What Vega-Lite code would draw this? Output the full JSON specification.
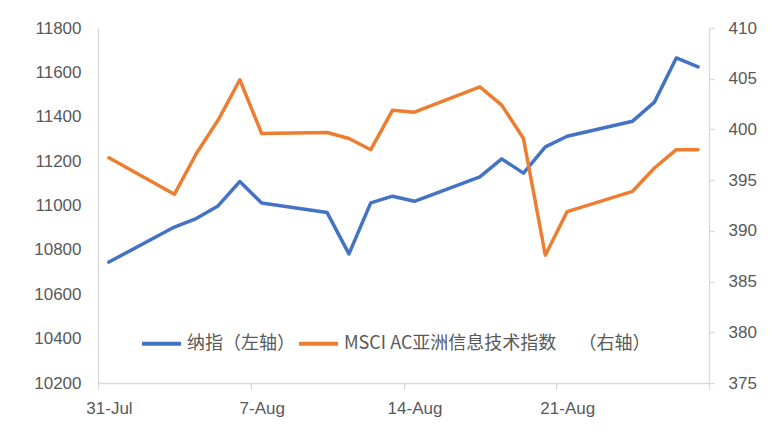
{
  "$schema": "https://vega.github.io/schema/vega-lite/v6.json",
  "autosize": "none",
  "width": 611,
  "height": 355,
  "padding": {"left": 98, "top": 28, "right": 63, "bottom": 49},
  "background": "white",
  "config": {
    "view": {"stroke": null},
    "axis": {"labelFont": "Liberation Sans", "labelFontSize": 17, "labelColor": "#595959", "domainColor": "#d9d9d9", "tickColor": "#d9d9d9", "domainWidth": 1.3, "tickWidth": 1.3, "grid": false, "title": null}
  },
  "data": {
    "values": [
      {"date": "2020-07-31", "series": "纳指（左轴）", "value": 10745},
      {"date": "2020-08-03", "series": "纳指（左轴）", "value": 10903},
      {"date": "2020-08-04", "series": "纳指（左轴）", "value": 10941},
      {"date": "2020-08-05", "series": "纳指（左轴）", "value": 10998},
      {"date": "2020-08-06", "series": "纳指（左轴）", "value": 11108},
      {"date": "2020-08-07", "series": "纳指（左轴）", "value": 11011},
      {"date": "2020-08-10", "series": "纳指（左轴）", "value": 10968},
      {"date": "2020-08-11", "series": "纳指（左轴）", "value": 10782},
      {"date": "2020-08-12", "series": "纳指（左轴）", "value": 11012},
      {"date": "2020-08-13", "series": "纳指（左轴）", "value": 11042},
      {"date": "2020-08-14", "series": "纳指（左轴）", "value": 11019},
      {"date": "2020-08-17", "series": "纳指（左轴）", "value": 11129},
      {"date": "2020-08-18", "series": "纳指（左轴）", "value": 11210},
      {"date": "2020-08-19", "series": "纳指（左轴）", "value": 11146},
      {"date": "2020-08-20", "series": "纳指（左轴）", "value": 11264},
      {"date": "2020-08-21", "series": "纳指（左轴）", "value": 11312},
      {"date": "2020-08-24", "series": "纳指（左轴）", "value": 11380},
      {"date": "2020-08-25", "series": "纳指（左轴）", "value": 11466},
      {"date": "2020-08-26", "series": "纳指（左轴）", "value": 11665},
      {"date": "2020-08-27", "series": "纳指（左轴）", "value": 11625},
      {"date": "2020-07-31", "series": "MSCI", "value": 397.2},
      {"date": "2020-08-03", "series": "MSCI", "value": 393.6},
      {"date": "2020-08-04", "series": "MSCI", "value": 397.6},
      {"date": "2020-08-05", "series": "MSCI", "value": 400.9},
      {"date": "2020-08-06", "series": "MSCI", "value": 404.9},
      {"date": "2020-08-07", "series": "MSCI", "value": 399.6},
      {"date": "2020-08-10", "series": "MSCI", "value": 399.7},
      {"date": "2020-08-11", "series": "MSCI", "value": 399.1},
      {"date": "2020-08-12", "series": "MSCI", "value": 398.0},
      {"date": "2020-08-13", "series": "MSCI", "value": 401.9},
      {"date": "2020-08-14", "series": "MSCI", "value": 401.7},
      {"date": "2020-08-17", "series": "MSCI", "value": 404.2},
      {"date": "2020-08-18", "series": "MSCI", "value": 402.4},
      {"date": "2020-08-19", "series": "MSCI", "value": 399.1},
      {"date": "2020-08-20", "series": "MSCI", "value": 387.6},
      {"date": "2020-08-21", "series": "MSCI", "value": 391.9},
      {"date": "2020-08-24", "series": "MSCI", "value": 393.9},
      {"date": "2020-08-25", "series": "MSCI", "value": 396.2},
      {"date": "2020-08-26", "series": "MSCI", "value": 398.0},
      {"date": "2020-08-27", "series": "MSCI", "value": 398.0}
    ]
  },
  "encoding": {
    "x": {
      "field": "date",
      "timeUnit": "utcyearmonthdate",
      "type": "temporal",
      "bandPosition": 0.5,
      "scale": {
        "type": "utc",
        "domain": [
          {"year": 2020, "month": "jul", "date": 31, "utc": true},
          {"year": 2020, "month": "aug", "date": 28, "utc": true}
        ],
        "nice": false
      },
      "axis": {
        "values": [
          {"year": 2020, "month": "jul", "date": 31, "utc": true},
          {"year": 2020, "month": "aug", "date": 7, "utc": true},
          {"year": 2020, "month": "aug", "date": 14, "utc": true},
          {"year": 2020, "month": "aug", "date": 21, "utc": true},
          {"year": 2020, "month": "aug", "date": 28, "utc": true}
        ],
        "labelExpr": "utcFormat(datum.value, '%-d-%b') == '28-Aug' ? '' : utcFormat(datum.value, '%-d-%b')",
        "labelOffset": 11,
        "labelPadding": 11,
        "tickSize": 6,
        "labelOverlap": false,
        "labelFlush": false,
        "labelBound": false
      }
    },
    "color": {
      "field": "series",
      "type": "nominal",
      "scale": {
        "domain": ["纳指（左轴）", "MSCI"],
        "range": ["#4472C4", "#ED7D31"]
      },
      "legend": {
        "title": null,
        "orient": "none",
        "direction": "horizontal",
        "legendX": 42,
        "legendY": 294,
        "padding": 0,
        "symbolType": "stroke",
        "symbolSize": 1521,
        "symbolStrokeWidth": 4,
        "labelFont": "Noto Sans CJK SC",
        "labelFontSize": 18,
        "labelColor": "#595959",
        "labelOffset": 4,
        "columnPadding": -4,
        "labelLimit": 400,
        "labelExpr": "datum.label == 'MSCI' ? 'MSCI AC亚洲信息技术指数\u3000\u00a0（右轴）' : datum.label"
      }
    }
  },
  "layer": [
    {
      "transform": [{"filter": "datum.series == '纳指（左轴）'"}],
      "mark": {"type": "line", "strokeWidth": 3.5, "strokeJoin": "round", "strokeCap": "round"},
      "encoding": {
        "y": {
          "field": "value",
          "type": "quantitative",
          "scale": {"domain": [10200, 11800], "nice": false, "zero": false},
          "axis": {"orient": "left", "format": "d", "values": [10200, 10400, 10600, 10800, 11000, 11200, 11400, 11600, 11800], "ticks": false, "labelPadding": 17}
        }
      }
    },
    {
      "transform": [{"filter": "datum.series == 'MSCI'"}],
      "mark": {"type": "line", "strokeWidth": 3.5, "strokeJoin": "round", "strokeCap": "round"},
      "encoding": {
        "y": {
          "field": "value",
          "type": "quantitative",
          "scale": {"domain": [375, 410], "nice": false, "zero": false},
          "axis": {"orient": "right", "values": [375, 380, 385, 390, 395, 400, 405, 410], "tickSize": 5, "labelPadding": 14}
        }
      }
    }
  ],
  "resolve": {"scale": {"y": "independent"}}
}
